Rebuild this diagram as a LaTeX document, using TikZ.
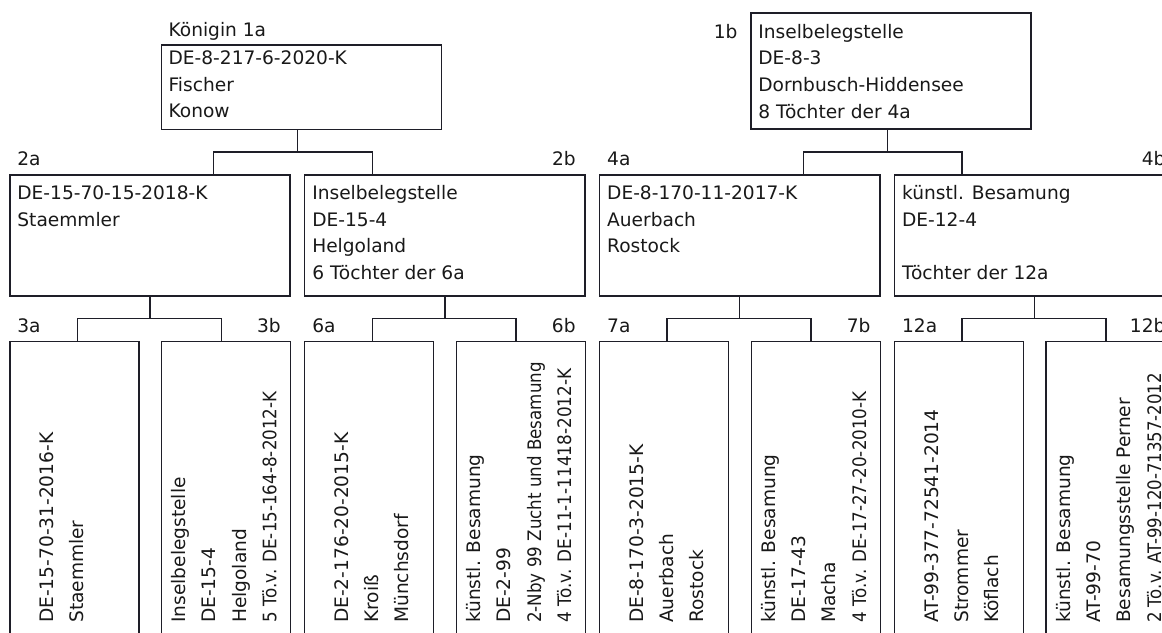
\documentclass[tikz,border=0pt]{standalone}
\usepackage{graphicx}
\usepackage{fontspec}
\setmainfont{DejaVu Sans}
\definecolor{linec}{RGB}{30,30,40}
\definecolor{textc}{RGB}{25,25,25}
\newcommand\fsh{\fontsize{18.6}{26.6}\selectfont}
\newcommand\fsv{\fontsize{18.6}{30.2}\selectfont}
\newcommand\ml[1]{\begin{tabular}[t]{@{}l@{}}#1\end{tabular}}
\newcommand\sq[2]{\scalebox{#1}[1]{#2}}
\begin{document}
\begin{tikzpicture}[x=1pt,y=-1pt,
  boxbase/.style={draw=linec, line width=1.3pt, inner sep=0pt, anchor=north west, rectangle},
  boxtop/.style={boxbase, minimum width=279.9pt},
  boxmid/.style={boxbase, minimum width=280.2pt, minimum height=121pt},
  boxlow/.style={boxbase, minimum width=129pt, minimum height=310pt},
  htxt/.style={inner sep=0pt, anchor=base west, font=\fsh, text=textc},
  vtxt/.style={inner sep=0pt, anchor=base west, rotate=90, font=\fsv, text=textc},
  lblw/.style={inner sep=0pt, anchor=base west, font=\fsh, text=textc},
  lble/.style={inner sep=0pt, anchor=base east, font=\fsh, text=textc},
  conn/.style={draw=linec, line width=1.3pt}]
\useasboundingbox (0,0) rectangle (1162,632);
\fill[white] (0,0) rectangle (1162,632);
\clip (0,0) rectangle (1162,632);

% ---- level 1
\node[boxtop, minimum height=84.7pt] (b1a) at (160.7,44.3) {};
\node[boxtop, minimum height=116pt] (b1b) at (750.4,12.3) {};
\node[lblw] (l1a) at (168.4,36.7) {Königin 1a};
\node[lblw] (l1b) at (713.6,38.3) {1b};
\node[htxt] (t1a) at (168.4,64.5) {\ml{DE-8-217-6-2020-K\\Fischer\\Konow}};
\node[htxt] (t1b) at (758.2,38.3) {\ml{Inselbelegstelle\\DE-8-3\\Dornbusch-Hiddensee\\8 Töchter der 4a}};

% ---- level 2
\node[boxmid] (b2a) at (9.2,174.3) {};
\node[boxmid] (b2b) at (304.1,174.3) {};
\node[boxmid] (b4a) at (599.0,174.3) {};
\node[boxmid] (b4b) at (893.9,174.3) {};
\node[lblw] (l2a) at (17.2,165) {2a};
\node[lble] (l2b) at (576.0,165) {2b};
\node[lblw] (l4a) at (607.0,165) {4a};
\node[lble] (l4b) at (1165.7,165) {4b};
\node[htxt] (t2a) at (17.2,199.5) {\ml{DE-15-70-15-2018-K\\Staemmler}};
\node[htxt] (t2b) at (312.1,199.5) {\ml{Inselbelegstelle\\DE-15-4\\Helgoland\\6 Töchter der 6a}};
\node[htxt] (t4a) at (607.0,199.5) {\ml{DE-8-170-11-2017-K\\Auerbach\\Rostock}};
\node[htxt] (t4b) at (901.9,199.5) {\ml{künstl. Besamung\\DE-12-4\\ \\Töchter der 12a}};

% ---- level 3
\node[boxlow] (b3a) at (9.2,340.7) {};
\node[boxlow] (b3b) at (160.7,340.7) {};
\node[boxlow] (b6a) at (304.1,340.7) {};
\node[boxlow] (b6b) at (455.6,340.7) {};
\node[boxlow] (b7a) at (599.0,340.7) {};
\node[boxlow] (b7b) at (750.5,340.7) {};
\node[boxlow] (b12a) at (893.9,340.7) {};
\node[boxlow] (b12b) at (1045.4,340.7) {};
\node[lblw] (l3a) at (17.2,332) {3a};
\node[lble] (l3b) at (280.9,332) {3b};
\node[lblw] (l6a) at (312.1,332) {6a};
\node[lble] (l6b) at (575.8,332) {6b};
\node[lblw] (l7a) at (607.0,332) {7a};
\node[lble] (l7b) at (870.7,332) {7b};
\node[lblw] (l12a) at (901.9,332) {12a};
\node[lble] (l12b) at (1165.6,332) {12b};

\node[vtxt] (t3a) at (53.5,623) {\ml{DE-15-70-31-2016-K\\Staemmler}};
\node[vtxt] (t3b) at (185.7,623) {\ml{Inselbelegstelle\\DE-15-4\\Helgoland\\\sq{0.9}{5 Tö.v. DE-15-164-8-2012-K}}};
\node[vtxt] (t6a) at (348.4,623) {\ml{DE-2-176-20-2015-K\\Kroiß\\Münchsdorf}};
\node[vtxt] (t6b) at (480.6,623) {\ml{künstl. Besamung\\DE-2-99\\\sq{0.897}{2-Nby 99 Zucht und Besamung}\\\sq{0.905}{4 Tö.v. DE-11-1-11418-2012-K}}};
\node[vtxt] (t7a) at (643.3,623) {\ml{DE-8-170-3-2015-K\\Auerbach\\Rostock}};
\node[vtxt] (t7b) at (775.5,623) {\ml{künstl. Besamung\\DE-17-43\\Macha\\\sq{0.9}{4 Tö.v. DE-17-27-20-2010-K}}};
\node[vtxt] (t12a) at (938.2,623) {\ml{AT-99-377-72541-2014\\Strommer\\Köflach}};
\node[vtxt] (t12b) at (1070.4,623) {\ml{künstl. Besamung\\AT-99-70\\Besamungsstelle Perner\\\sq{0.89}{2 Tö.v. AT-99-120-71357-2012}}};

% ---- connectors level 1 -> 2
\coordinate (s1a) at ([xshift=-3.6pt]b1a.south);
\coordinate (s1b) at ([xshift=-3.8pt]b1b.south);
\draw[conn] ([xshift=204.3pt]b2a.north west) -- ++(0,-22.3) coordinate (h1a) -| ([xshift=68.2pt]b2b.north west);
\draw[conn] (s1a) -- (s1a |- h1a);
\draw[conn] ([xshift=204.5pt]b4a.north west) -- ++(0,-22.3) coordinate (h1b) -| ([xshift=68.1pt]b4b.north west);
\draw[conn] (s1b) -- (s1b |- h1b);

% ---- connectors level 2 -> 3
\draw[conn] ([xshift=68.1pt]b3a.north west) -- ++(0,-22.4) coordinate (h2a) -| ([xshift=60.5pt]b3b.north west);
\draw[conn] (b2a.south) -- (b2a.south |- h2a);
\draw[conn] ([xshift=68.1pt]b6a.north west) -- ++(0,-22.4) coordinate (h2b) -| ([xshift=60.5pt]b6b.north west);
\draw[conn] (b2b.south) -- (b2b.south |- h2b);
\draw[conn] ([xshift=68.1pt]b7a.north west) -- ++(0,-22.4) coordinate (h4a) -| ([xshift=60.5pt]b7b.north west);
\draw[conn] (b4a.south) -- (b4a.south |- h4a);
\draw[conn] ([xshift=68.1pt]b12a.north west) -- ++(0,-22.4) coordinate (h4b) -| ([xshift=60.5pt]b12b.north west);
\draw[conn] (b4b.south) -- (b4b.south |- h4b);
\end{tikzpicture}
\end{document}
